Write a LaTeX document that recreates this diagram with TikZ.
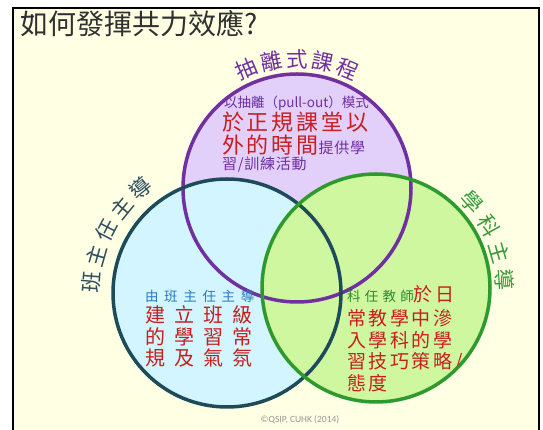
\documentclass[tikz,border=0pt]{standalone}
\usepackage{fontspec}
\newfontfamily\cjk{Noto Sans CJK TC}
\newfontfamily\carl{Carlito}
\definecolor{cream}{HTML}{FFFFE4}
\definecolor{pfill}{HTML}{E2D0FA}
\definecolor{bfill}{HTML}{D2F5FF}
\definecolor{gfill}{HTML}{CFF7A0}
\definecolor{pline}{HTML}{7030A0}
\definecolor{bline}{HTML}{1D4B5A}
\definecolor{gline}{HTML}{2E9A2E}
\definecolor{redtxt}{HTML}{C81E1E}
\definecolor{bluetxt}{HTML}{2A7AC0}
\definecolor{greentxt}{HTML}{2E8B2E}
\definecolor{titletxt}{HTML}{303030}
\definecolor{btitle}{HTML}{2F4F5F}
\definecolor{gtitle}{HTML}{3A9A3A}
\newcommand\ctxt[3]{{\fontsize{#1}{#1}\cjk\addfontfeatures{LetterSpace=#2}#3}}
\tikzset{
  txt/.style={anchor=west, inner sep=0pt, outer sep=0pt},
  curvlab/.style={inner sep=0pt, font=\fontsize{21.5}{21.5}\cjk},
  ring/.style={line width=3.5pt}
}
\begin{document}
\begin{tikzpicture}[x=1pt,y=1pt]
\useasboundingbox (0,0) rectangle (543,430);
\fill[white] (0,0) rectangle (543,430);
\fill[cream] (13,0) rectangle (539,422);
\draw[black, line width=2.2pt] (13,-3) -- (13,422) -- (539,422) -- (539,-3);
% title
\node[txt, text=titletxt] (title) at (20,406) {\fontsize{28}{28}\cjk 如何發揮共力效應?};
% circles
\coordinate (P) at (297,242);
\coordinate (B) at (227,137);
\coordinate (G) at (376,142);
\fill[pfill] (P) circle (114);
\fill[bfill] (B) circle (114);
\fill[gfill] (G) circle (114);
\draw[ring, pline] (P) circle (114);
\draw[ring, bline] (B) circle (114);
\draw[ring, gline] (G) circle (114);
% curved titles
\foreach \c/\a [count=\i] in {抽/113,離/101.5,式/90,課/78.5,程/67}
  \node[curvlab, text=pline, rotate=\a-90] (pt\i) at ([shift={(\a:129)}]P) {\c};
\foreach \c/\a [count=\i] in {班/175.4,主/164,任/152.5,主/141,導/129.6}
  \node[curvlab, text=btitle, rotate=\a-90] (bt\i) at ([shift={(\a:136)}]B) {\c};
\foreach \c/\a [count=\i] in {學/42,科/29,主/16.2,導/3.6}
  \node[curvlab, text=gtitle, rotate=\a-90] (gt\i) at ([shift={(\a:129)}]G) {\c};
% purple circle text
\node[txt] (p1) at (224,326.5) {\ctxt{13.5}{0}{\color{pline}以抽離（pull-out）模式}};
\node[txt] (p2) at (222,308) {\ctxt{22}{13}{\color{redtxt}於正規課堂以}};
\node[txt] (p3) at (222,285) {\ctxt{22}{13}{\color{redtxt}外的時間}\ctxt{15}{5}{\color{pline}提供學}};
\node[txt] (p4) at (222,265) {\ctxt{15}{5}{\color{pline}習/訓練活動}};
% blue circle text
\node[txt] (b1) at (145,134) {\ctxt{13.5}{42}{\color{bluetxt}由班主任主導}};
\node[txt] (b2) at (145,115) {\ctxt{20}{45}{\color{redtxt}建立班級}};
\node[txt] (b3) at (145,93) {\ctxt{20}{45}{\color{redtxt}的學習常}};
\node[txt] (b4) at (145,72) {\ctxt{20}{45}{\color{redtxt}規及氣氛}};
% green circle text
\begin{scope}
\clip (G) circle (112);
\node[txt] (g1) at (347,136) {\ctxt{13.5}{32}{\color{greentxt}科任教師}\ctxt{19}{14}{\color{redtxt}於日}};
\node[txt] (g2) at (347,112) {\ctxt{19}{14}{\color{redtxt}常教學中滲}};
\node[txt] (g3) at (347,90) {\ctxt{19}{14}{\color{redtxt}入學科的學}};
\node[txt] (g4) at (347,68) {\ctxt{19}{14}{\color{redtxt}習技巧策略/}};
\node[txt] (g5) at (347,47) {\ctxt{19}{14}{\color{redtxt}態度}};
\end{scope}
% copyright
\node[text=gray!80] (copy) at (300,10) {\fontsize{9.5}{9.5}\carl ©QSIP, CUHK (2014)};
\end{tikzpicture}
\end{document}
